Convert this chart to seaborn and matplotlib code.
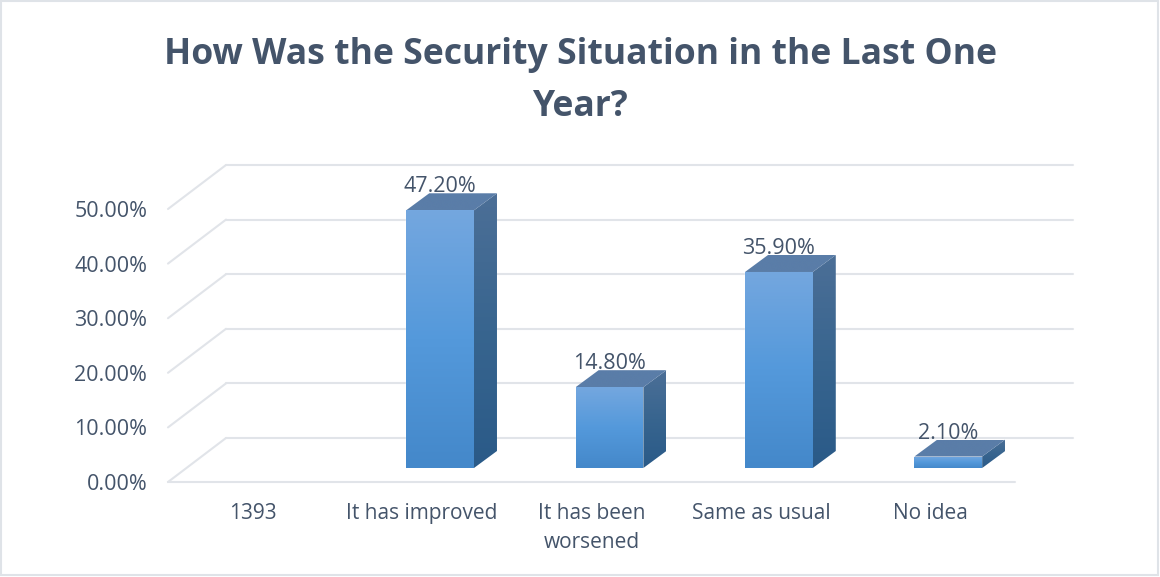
import numpy as np
import matplotlib
matplotlib.use("Agg")
import matplotlib.pyplot as plt
import seaborn as sns
from matplotlib.patches import Polygon, Rectangle
from matplotlib.transforms import IdentityTransform, ScaledTranslation
from matplotlib.colors import to_rgb

title = "How Was the Security Situation in the Last One\nYear?"
categories = ["1393", "It has improved", "It has been\nworsened", "Same as usual", "No idea"]
values = [np.nan, 47.2, 14.8, 35.9, 2.1]
labels = ["", "47.20%", "14.80%", "35.90%", "2.10%"]
yticks = [0, 10, 20, 30, 40, 50]

W, H, DPI = 1160, 577, 100
TXT, GRID = "#44546a", "#e1e4e9"
sns.set_theme(style="white")
plt.rcParams["font.family"] = ["Open Sans", "DejaVu Sans"]

fig = plt.figure(figsize=(W / DPI, H / DPI), dpi=DPI, facecolor="white")
L, R, Y0, Y50 = 168, 1015, 482, 209
ax = fig.add_axes([L / W, 1 - Y0 / H, (R - L) / W, (Y0 - Y50) / H])
ax.patch.set_alpha(0)

def shift(dx, dy):
    return ax.transData + ScaledTranslation(dx / DPI, -dy / DPI, fig.dpi_scale_trans)

sns.barplot(x=categories, y=values, ax=ax, width=0.4, color="#5499db", saturation=1, zorder=3)
ax.set_xlim(-0.5, 4.5)
ax.set_ylim(0, 50)
ax.set_yticks(yticks)
ax.set_yticklabels([f"{v:.2f}%" for v in yticks])
ax.tick_params(axis="y", length=0, pad=15, labelsize=15.5, labelcolor=TXT)
ax.tick_params(axis="x", length=0, pad=15, labelsize=15, labelcolor=TXT)
for lab in ax.get_xticklabels():
    lab.set_linespacing(1.5)
for s in ["top", "right", "left", "bottom"]:
    ax.spines[s].set_visible(False)

# walls: back grid lines, side diagonals, floor line
BX, BY = 58, -44
for v in yticks:
    ax.plot([-0.5, 4.5], [v, v], color=GRID, lw=1.5, transform=shift(BX, BY), clip_on=False, zorder=1)
    p0 = ax.transData.transform((-0.5, v))
    ax.plot([p0[0], p0[0] + BX], [p0[1], p0[1] - BY], color=GRID, lw=1.5,
            transform=IdentityTransform(), clip_on=False, zorder=1)
ax.plot([-0.5, 4.5], [0, 0], color=GRID, lw=1.5, clip_on=False, zorder=1)

def gradient(pts, stops, z):
    pts = np.asarray(pts)
    arr = np.linspace(0, 1, 256)[:, None]
    rgb = np.stack([np.interp(arr[:, 0], np.linspace(0, 1, len(stops)),
                              [to_rgb(c)[i] for c in stops]) for i in range(3)], axis=1)[:, None, :]
    im = ax.imshow(rgb, extent=(pts[:, 0].min(), pts[:, 0].max(), pts[:, 1].min(), pts[:, 1].max()),
                   aspect="auto", origin="upper", transform=IdentityTransform(), zorder=z,
                   interpolation="bilinear")
    im.set_clip_box(fig.bbox)
    im.set_clip_path(Polygon(pts, closed=True, transform=IdentityTransform()))

# bars sit in the middle of the floor depth
FX, FY = 18, -14
DX, DY = 23, 17
bars = [b for b in ax.patches if np.isfinite(b.get_height()) and b.get_height() > 0]
for bar in bars:
    bar.set_transform(shift(FX, FY))
    bar.set_clip_on(False)
    x0, x1 = bar.get_x(), bar.get_x() + bar.get_width()
    h = bar.get_height()
    T = shift(FX, FY)
    a = T.transform((x0, 0)); b = T.transform((x1, 0))
    c = T.transform((x1, h)); d = T.transform((x0, h))
    gradient([a, b, c, d], ["#74a7df", "#5499db", "#4488ca"], 3.2)
    o = np.array([DX, DY])
    gradient([b, b + o, c + o, c], ["#4c6f97", "#38658f", "#2a5a88"], 3.3)
    gradient([d, c, c + o, d + o], ["#5a7da8", "#5a7da8"], 3.4)

for bar, txt in zip(bars, [l for l in labels if l]):
    xc = bar.get_x() + bar.get_width() / 2
    ax.annotate(txt, (xc, bar.get_height()), xycoords=shift(FX, FY),
                xytext=(0, (DY + 1) * 72 / DPI), textcoords="offset points",
                ha="center", va="baseline", fontsize=15.5, color=TXT, zorder=5,
                annotation_clip=False)

ax.set_xlim(-0.5, 4.5)
ax.set_ylim(0, 50)

fig.text(580 / W, 1 - 81 / H, title, ha="center", va="center", fontsize=25.6, fontweight="bold",
         color=TXT, linespacing=1.58)
fig.add_artist(Rectangle((1 / W, 1 - 575 / H), 1157 / W, 574 / H, transform=fig.transFigure,
                         fill=False, edgecolor="#dfe3e8", lw=1.5))
fig.savefig("out.png", dpi=DPI, facecolor="white")
